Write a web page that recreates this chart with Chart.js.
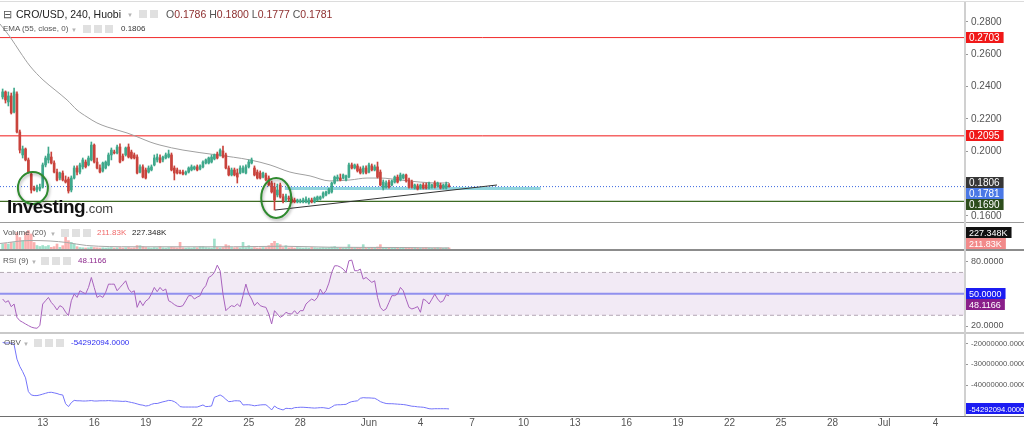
<!DOCTYPE html>
<html>
<head>
<meta charset="utf-8">
<title>CRO/USD 240 Huobi</title>
<script src="https://cdn.jsdelivr.net/npm/chart.js@4.4.1/dist/chart.umd.min.js"></script>
<style>
  html, body { margin: 0; padding: 0; background: #fff; }
  #wrap { position: relative; width: 1024px; height: 428px; overflow: hidden;
          font-family: "Liberation Sans", Arial, sans-serif; }
  #wrap canvas { position: absolute; left: 0; }
  .line { position: absolute; left: 0; width: 1024px; }
  .lbl { position: absolute; white-space: nowrap; font-size: 8px; line-height: 10px; color: #555; }
  .ico { position: absolute; width: 8px; height: 8px; background: #e0e0e0; }
  .dd { position: absolute; color: #b4b4b4; font-size: 6px; line-height: 8px; }
</style>
</head>
<body>
<div id="wrap">
  <canvas id="priceChart" width="1024" height="219" style="top:3px"></canvas>
  <canvas id="volumeChart" width="1024" height="26" style="top:223px"></canvas>
  <canvas id="rsiChart" width="1024" height="81" style="top:251px"></canvas>
  <canvas id="obvChart" width="1024" height="94" style="top:334px"></canvas>

  <!-- pane borders -->
  <div class="line" style="top:1px;height:1px;background:#dcdcdc"></div>
  <div class="line" style="top:222px;height:1px;background:#9a9a9a"></div>
  <div class="line" style="top:249px;height:2px;background:#8c8c8c"></div>
  <div class="line" style="top:332px;height:2px;background:#c9c9c9"></div>
  <div class="line" style="top:416px;height:1px;background:#6e6e6e"></div>
  <div style="position:absolute;left:964px;top:2px;width:2px;height:414px;background:#d0d0d0"></div>

  <!-- main legend -->
  <div class="lbl" style="left:3px;top:8px;font-size:11px;line-height:12px;color:#555">&#8863;</div>
  <div class="lbl" style="left:16px;top:8px;font-size:10.5px;line-height:12px;color:#222">CRO/USD, 240, Huobi</div>
  <div class="dd" style="left:127px;top:11px">&#9660;</div>
  <div class="ico" style="left:139px;top:10px"></div>
  <div class="ico" style="left:150px;top:10px"></div>
  <div class="lbl" style="left:166px;top:8px;font-size:10.5px;line-height:12px;color:#8e2f2f"><span style="color:#555">O</span>0.1786 <span style="color:#555">H</span>0.1800 <span style="color:#555">L</span>0.1777 <span style="color:#555">C</span>0.1781</div>

  <div class="lbl" style="left:3px;top:24px">EMA (55, close, 0)</div>
  <div class="dd" style="left:71px;top:26px">&#9660;</div>
  <div class="ico" style="left:83px;top:25px"></div>
  <div class="ico" style="left:94px;top:25px"></div>
  <div class="ico" style="left:105px;top:25px"></div>
  <div class="lbl" style="left:121px;top:24px;color:#333">0.1806</div>

  <div class="lbl" style="left:3px;top:228px">Volume (20)</div>
  <div class="dd" style="left:50px;top:230px">&#9660;</div>
  <div class="ico" style="left:61px;top:229px"></div>
  <div class="ico" style="left:72px;top:229px"></div>
  <div class="ico" style="left:83px;top:229px"></div>
  <div class="lbl" style="left:97px;top:228px;color:#f06a6a">211.83K</div>
  <div class="lbl" style="left:132px;top:228px;color:#222">227.348K</div>

  <div class="lbl" style="left:3px;top:256px">RSI (9)</div>
  <div class="dd" style="left:31px;top:258px">&#9660;</div>
  <div class="ico" style="left:41px;top:257px"></div>
  <div class="ico" style="left:52px;top:257px"></div>
  <div class="ico" style="left:63px;top:257px"></div>
  <div class="lbl" style="left:78px;top:256px;color:#8e2a8e">48.1166</div>

  <div class="lbl" style="left:4px;top:338px">OBV</div>
  <div class="dd" style="left:23px;top:340px">&#9660;</div>
  <div class="ico" style="left:34px;top:339px"></div>
  <div class="ico" style="left:45px;top:339px"></div>
  <div class="ico" style="left:56px;top:339px"></div>
  <div class="lbl" style="left:71px;top:338px;color:#2e2ef0">-54292094.0000</div>

  <div class="lbl" style="left:7px;top:197px;font-size:19px;line-height:20px;font-weight:bold;color:#111;letter-spacing:-0.6px">Investing<span style="font-size:13px;font-weight:normal;color:#444;letter-spacing:0">.com</span></div>
</div>

<script>
Chart.defaults.font.family = '"Liberation Sans", Arial, sans-serif';
Chart.defaults.font.size = 10;
Chart.defaults.color = '#555';

// Time axis: days counted from 13 May 00:00, one bar every 240 minutes
const firstBarDay = -2 - 1 / 3; // 10 May 16:00
const barDays = 1 / 6;
const viewStart = -2.487;
const viewEnd = 53.715;
const tickDays = [0, 3, 6, 9, 12, 15, 19, 22, 25, 28, 31, 34, 37, 40, 43, 46, 49, 52];
const tickLabels = ["13", "16", "19", "22", "25", "28", "Jun", "4", "7", "10", "13", "16", "19", "22", "25", "28", "Jul", "4"];

// Candles
const opens = [
  0.2336, 0.2367, 0.2305, 0.2342, 0.2243, 0.2354, 0.2119, 0.1977, 0.2014, 0.1946,
  0.1859, 0.1772, 0.1760, 0.1766, 0.1778, 0.1915, 0.1946, 0.1964, 0.1927, 0.1871,
  0.1834, 0.1865, 0.1822, 0.1828, 0.1760, 0.1834, 0.1896, 0.1871, 0.1903, 0.1933,
  0.1915, 0.1946, 0.2038, 0.1933, 0.1896, 0.1878, 0.1896, 0.1915, 0.1977, 0.1995,
  0.1989, 0.2026, 0.1970, 0.1977, 0.2026, 0.1995, 0.1977, 0.1964, 0.1871, 0.1903,
  0.1884, 0.1871, 0.1884, 0.1915, 0.1946, 0.1958, 0.1946, 0.1958, 0.1964, 0.1977,
  0.1896, 0.1884, 0.1871, 0.1871, 0.1859, 0.1871, 0.1884, 0.1890, 0.1903, 0.1890,
  0.1903, 0.1927, 0.1927, 0.1933, 0.1952, 0.1983, 0.1977, 0.2001, 0.1977, 0.1896,
  0.1853, 0.1884, 0.1865, 0.1865, 0.1871, 0.1865, 0.1903, 0.1927, 0.1896, 0.1871,
  0.1865, 0.1840, 0.1853, 0.1834, 0.1803, 0.1778, 0.1729, 0.1791, 0.1717, 0.1698,
  0.1710, 0.1704, 0.1698, 0.1686, 0.1686, 0.1686, 0.1686, 0.1680, 0.1698, 0.1686,
  0.1698, 0.1704, 0.1717, 0.1729, 0.1741, 0.1748, 0.1803, 0.1828, 0.1834, 0.1834,
  0.1822, 0.1840, 0.1915, 0.1896, 0.1909, 0.1890, 0.1871, 0.1896, 0.1871, 0.1909,
  0.1884, 0.1903, 0.1871, 0.1772, 0.1778, 0.1809, 0.1791, 0.1809, 0.1840, 0.1822,
  0.1834, 0.1853, 0.1822, 0.1809, 0.1772, 0.1785, 0.1772, 0.1791, 0.1791, 0.1772,
  0.1778, 0.1803, 0.1785, 0.1791, 0.1772, 0.1772, 0.1786
];
const highs = [
  0.2385, 0.2373, 0.2367, 0.2360, 0.2391, 0.2367, 0.2131, 0.2032, 0.2020, 0.1958,
  0.1871, 0.1785, 0.1791, 0.1797, 0.1927, 0.1970, 0.2026, 0.1995, 0.1940, 0.1890,
  0.1871, 0.1878, 0.1847, 0.1840, 0.1847, 0.1909, 0.1909, 0.1927, 0.1958, 0.1946,
  0.1970, 0.2057, 0.2045, 0.1958, 0.1915, 0.1933, 0.1940, 0.1989, 0.2020, 0.2007,
  0.2038, 0.2045, 0.1983, 0.2026, 0.2045, 0.2007, 0.1989, 0.1977, 0.1915, 0.1915,
  0.1896, 0.1909, 0.1915, 0.1977, 0.1983, 0.1977, 0.1970, 0.1989, 0.2007, 0.1989,
  0.1909, 0.1896, 0.1884, 0.1884, 0.1878, 0.1903, 0.1915, 0.1909, 0.1915, 0.1915,
  0.1940, 0.1952, 0.1964, 0.1977, 0.1983, 0.1995, 0.2014, 0.2032, 0.1989, 0.1909,
  0.1896, 0.1896, 0.1890, 0.1909, 0.1909, 0.1915, 0.1946, 0.1958, 0.1909, 0.1884,
  0.1878, 0.1871, 0.1865, 0.1847, 0.1816, 0.1803, 0.1797, 0.1803, 0.1735, 0.1735,
  0.1723, 0.1717, 0.1710, 0.1704, 0.1704, 0.1710, 0.1717, 0.1710, 0.1710, 0.1717,
  0.1723, 0.1723, 0.1748, 0.1754, 0.1772, 0.1809, 0.1847, 0.1853, 0.1859, 0.1859,
  0.1853, 0.1927, 0.1927, 0.1921, 0.1921, 0.1903, 0.1909, 0.1909, 0.1927, 0.1921,
  0.1915, 0.1933, 0.1884, 0.1822, 0.1816, 0.1822, 0.1822, 0.1847, 0.1853, 0.1865,
  0.1859, 0.1859, 0.1834, 0.1822, 0.1797, 0.1797, 0.1797, 0.1803, 0.1803, 0.1809,
  0.1797, 0.1816, 0.1809, 0.1803, 0.1797, 0.1809, 0.1800
];
const lows = [
  0.2323, 0.2298, 0.2280, 0.2230, 0.2237, 0.2113, 0.1989, 0.1958, 0.1940, 0.1865,
  0.1741, 0.1754, 0.1748, 0.1754, 0.1772, 0.1903, 0.1927, 0.1921, 0.1865, 0.1816,
  0.1822, 0.1816, 0.1803, 0.1741, 0.1748, 0.1828, 0.1853, 0.1859, 0.1890, 0.1896,
  0.1909, 0.1940, 0.1927, 0.1890, 0.1865, 0.1871, 0.1890, 0.1909, 0.1946, 0.1983,
  0.1983, 0.1927, 0.1940, 0.1970, 0.1958, 0.1952, 0.1952, 0.1859, 0.1865, 0.1834,
  0.1828, 0.1865, 0.1878, 0.1909, 0.1933, 0.1927, 0.1933, 0.1952, 0.1958, 0.1878,
  0.1822, 0.1859, 0.1859, 0.1853, 0.1853, 0.1865, 0.1878, 0.1884, 0.1878, 0.1884,
  0.1896, 0.1921, 0.1921, 0.1927, 0.1946, 0.1952, 0.1970, 0.1958, 0.1890, 0.1847,
  0.1847, 0.1847, 0.1803, 0.1859, 0.1865, 0.1859, 0.1896, 0.1921, 0.1847, 0.1828,
  0.1828, 0.1834, 0.1816, 0.1785, 0.1741, 0.1636, 0.1717, 0.1710, 0.1680, 0.1686,
  0.1692, 0.1680, 0.1680, 0.1680, 0.1680, 0.1680, 0.1680, 0.1673, 0.1680, 0.1680,
  0.1692, 0.1698, 0.1710, 0.1723, 0.1735, 0.1741, 0.1797, 0.1816, 0.1816, 0.1828,
  0.1816, 0.1834, 0.1890, 0.1890, 0.1871, 0.1859, 0.1859, 0.1859, 0.1865, 0.1878,
  0.1878, 0.1834, 0.1785, 0.1760, 0.1772, 0.1772, 0.1785, 0.1803, 0.1803, 0.1816,
  0.1828, 0.1809, 0.1772, 0.1772, 0.1766, 0.1760, 0.1766, 0.1766, 0.1766, 0.1766,
  0.1772, 0.1772, 0.1778, 0.1766, 0.1766, 0.1766, 0.1777
];
const closes = [
  0.2367, 0.2317, 0.2342, 0.2237, 0.2367, 0.2119, 0.2007, 0.2014, 0.1946, 0.1871,
  0.1760, 0.1760, 0.1778, 0.1778, 0.1915, 0.1958, 0.1983, 0.1927, 0.1871, 0.1822,
  0.1865, 0.1822, 0.1809, 0.1754, 0.1834, 0.1896, 0.1871, 0.1915, 0.1946, 0.1903,
  0.1958, 0.2038, 0.1933, 0.1896, 0.1871, 0.1927, 0.1933, 0.1977, 0.2007, 0.1989,
  0.2026, 0.1933, 0.1946, 0.2020, 0.1964, 0.1958, 0.1958, 0.1865, 0.1903, 0.1840,
  0.1834, 0.1896, 0.1903, 0.1958, 0.1964, 0.1933, 0.1964, 0.1977, 0.1983, 0.1884,
  0.1865, 0.1865, 0.1865, 0.1859, 0.1871, 0.1896, 0.1903, 0.1903, 0.1884, 0.1909,
  0.1933, 0.1946, 0.1958, 0.1964, 0.1977, 0.1958, 0.2007, 0.1964, 0.1896, 0.1853,
  0.1884, 0.1853, 0.1840, 0.1896, 0.1896, 0.1903, 0.1933, 0.1946, 0.1853, 0.1834,
  0.1834, 0.1865, 0.1822, 0.1791, 0.1748, 0.1698, 0.1760, 0.1717, 0.1692, 0.1723,
  0.1704, 0.1686, 0.1686, 0.1698, 0.1692, 0.1698, 0.1704, 0.1698, 0.1686, 0.1710,
  0.1717, 0.1717, 0.1741, 0.1748, 0.1766, 0.1803, 0.1840, 0.1840, 0.1822, 0.1853,
  0.1847, 0.1915, 0.1896, 0.1915, 0.1878, 0.1865, 0.1896, 0.1865, 0.1915, 0.1884,
  0.1903, 0.1840, 0.1791, 0.1809, 0.1803, 0.1778, 0.1816, 0.1840, 0.1809, 0.1853,
  0.1853, 0.1816, 0.1778, 0.1778, 0.1791, 0.1766, 0.1791, 0.1772, 0.1772, 0.1803,
  0.1791, 0.1778, 0.1803, 0.1772, 0.1791, 0.1797, 0.1781
];

// EMA(55): day, value
const emaDays = [-2.49, -1.90, -1.32, -0.74, 0.02, 0.72, 1.42, 2.00, 2.58, 3.16, 3.75, 4.91, 5.67,
  6.25, 6.83, 8.17, 10.15, 12.07, 13.24, 14.40, 15.57, 16.73, 17.90, 18.89, 19.65, 20.81, 21.98, 23.14, 23.67];
const emaValues = [0.2787, 0.2707, 0.2614, 0.2527, 0.2441, 0.2379, 0.2317, 0.2255, 0.2212, 0.2175, 0.2150, 0.2113, 0.2082,
  0.2057, 0.2038, 0.2007, 0.1977, 0.1946, 0.1915, 0.1871, 0.1847, 0.1816, 0.1822, 0.1834, 0.1834, 0.1822, 0.1809, 0.1803, 0.1806];

// Drawn levels
const resistanceHigh = 0.2703;
const resistanceLow = 0.2095;
const supportLevel = 0.1690;
const zoneLevel = 0.1769;
const zoneDays = [14.1, 29.0];
const trendDays = [13.53, 26.46];
const trendPrices = [0.1636, 0.1791];

// Volume (thousands)
const volumes = [
  1000, 1100, 1000, 1300, 1300, 3300, 2300, 1700, 3300, 3700,
  3000, 1300, 700, 500, 700, 500, 700, 330, 470, 1000,
  330, 670, 2700, 1670, 1330, 1000, 470, 300, 250, 200,
  250, 400, 300, 250, 200, 250, 200, 250, 300, 200,
  250, 300, 200, 250, 300, 200, 250, 700, 670, 470,
  300, 250, 200, 300, 250, 470, 250, 200, 300, 350,
  300, 250, 1330, 250, 200, 250, 200, 300, 250, 470,
  470, 300, 250, 200, 2000, 300, 250, 300, 870, 670,
  300, 250, 300, 250, 1330, 300, 670, 250, 300, 200,
  250, 300, 300, 670, 1130, 1530, 1130, 870, 300, 670,
  250, 300, 200, 300, 250, 200, 250, 200, 300, 250,
  200, 250, 300, 250, 300, 400, 500, 300, 250, 200,
  250, 870, 300, 250, 300, 250, 870, 300, 250, 300,
  250, 400, 870, 300, 250, 200, 250, 300, 200, 250,
  200, 250, 300, 200, 250, 200, 150, 200, 250, 200,
  150, 200, 250, 200, 150, 200, 227.348
];
const volMaDays = [-2.49, -0.74, 0.43, 1.40, 2.56, 5.26, 11.1, 14.0, 16.9, 20.8, 23.67];
const volMaValues = [1100, 1700, 1600, 1300, 700, 450, 450, 550, 350, 300, 211.83];

// RSI(9)
const rsiValues = [
  45.2, 42.1, 43.6, 38.0, 40.5, 28.1, 25.0, 23.5, 21.9, 20.4,
  19.0, 18.2, 17.9, 20.4, 40.5, 43.6, 46.7, 42.0, 39.0, 35.0,
  39.0, 37.4, 33.0, 29.7, 43.6, 49.8, 46.7, 52.9, 51.4, 50.0,
  56.0, 65.3, 56.0, 46.7, 48.3, 46.7, 51.4, 59.1, 59.0, 59.1,
  52.9, 56.0, 59.0, 62.2, 54.5, 51.4, 52.9, 37.4, 43.6, 39.0,
  43.3, 45.2, 50.0, 56.0, 52.0, 56.0, 52.9, 54.5, 43.6, 42.1,
  40.0, 38.5, 38.1, 39.0, 43.6, 48.3, 48.3, 45.2, 47.0, 48.3,
  54.5, 57.6, 65.3, 66.9, 70.0, 76.8, 71.6, 49.8, 34.3, 37.0,
  39.0, 38.1, 40.5, 38.1, 48.3, 59.1, 50.0, 45.2, 39.0, 42.1,
  39.0, 38.0, 37.4, 31.2, 21.9, 34.3, 31.2, 28.1, 29.7, 32.8,
  31.5, 31.2, 34.3, 31.2, 34.3, 34.3, 40.5, 43.0, 45.2, 43.6,
  46.7, 54.5, 49.8, 52.9, 60.0, 70.0, 76.2, 76.2, 75.0, 73.1,
  70.0, 80.9, 81.5, 71.6, 71.6, 73.1, 63.8, 65.3, 63.0, 60.7,
  62.2, 46.7, 37.4, 34.3, 35.9, 42.0, 48.3, 48.3, 49.8, 56.0,
  52.9, 45.0, 37.4, 35.9, 36.8, 38.1, 32.8, 45.2, 43.6, 40.5,
  45.0, 49.8, 45.2, 42.1, 43.6, 49.2, 48.1166
];

// OBV (millions)
const obvValues = [
  -19.5, -19.8, -19.7, -19.9, -20.5, -27.5, -31.0, -33.5, -36.5, -43.1,
  -44.7, -45.0, -45.0, -44.7, -44.3, -43.9, -43.5, -43.4, -43.7, -44.0,
  -44.5, -44.7, -48.9, -50.3, -48.4, -47.3, -47.5, -47.5, -47.6, -47.6,
  -47.5, -47.4, -47.6, -47.6, -47.5, -47.5, -47.5, -47.4, -47.5, -47.6,
  -47.6, -47.7, -47.8, -47.7, -48.0, -48.3, -48.6, -49.0, -49.4, -49.6,
  -50.0, -49.8, -49.2, -48.8, -48.8, -48.4, -48.0, -47.7, -47.3, -47.4,
  -47.9, -48.8, -50.3, -50.5, -50.5, -50.5, -50.5, -50.5, -50.5, -50.0,
  -49.5, -50.3, -50.2, -50.0, -45.8, -45.3, -44.7, -45.5, -46.8, -47.9,
  -47.8, -47.5, -47.5, -47.6, -49.5, -49.4, -49.4, -49.6, -49.9, -49.7,
  -49.5, -49.4, -49.4, -50.5, -51.9, -50.0, -51.0, -51.5, -51.9, -51.1,
  -51.2, -51.3, -50.8, -50.7, -50.6, -50.6, -50.7, -50.8, -50.9, -51.0,
  -50.9, -50.8, -50.8, -51.0, -51.2, -50.5, -49.6, -49.4, -49.4, -49.3,
  -49.2, -48.4, -47.9, -47.7, -47.5, -46.3, -46.0, -46.1, -46.1, -46.2,
  -46.3, -47.0, -47.9, -48.4, -48.8, -48.9, -48.9, -49.0, -49.1, -49.2,
  -49.3, -49.5, -49.8, -50.1, -50.2, -50.4, -50.5, -50.6, -50.9, -51.3,
  -51.4, -51.3, -51.3, -51.3, -51.3, -51.3, -51.4
];

const priceTicks = [0.16, 0.18, 0.20, 0.22, 0.24, 0.26, 0.28];
const rsiTicks = [20, 40, 80];
const obvTicks = [-20, -30, -40, -50];


// ---------- helpers ----------
const barTimes = closes.map((c, i) => firstBarDay + i * barDays);
const upColor = "#3fa88b";
const downColor = "#c9433c";
const candleColors = closes.map((c, i) => (c >= opens[i] ? upColor : downColor));
const volumeColors = closes.map((c, i) => (c >= opens[i] ? "rgba(80,200,160,0.55)" : "rgba(245,110,110,0.55)"));

function flat(value, from = viewStart, to = viewEnd) {
  return [{ x: from, y: value }, { x: to, y: value }];
}

function lineSet(data, color, width, order, extra = {}) {
  return Object.assign({
    type: "line", data, borderColor: color, borderWidth: width,
    pointRadius: 0, fill: false, tension: 0, order
  }, extra);
}

function timeAxis(show) {
  return {
    type: "linear", min: viewStart, max: viewEnd, offset: false, display: show,
    afterBuildTicks: (axis) => { axis.ticks = tickDays.map((v) => ({ value: v })); },
    // hidden axes must not take any room
    afterFit: (axis) => { axis.height = show ? 12 : 0; axis.paddingLeft = 0; axis.paddingRight = 0; },
    grid: { display: false, drawTicks: false },
    border: { display: false },
    ticks: { color: "#555", padding: 1, maxRotation: 0, autoSkip: false,
             callback: (v, i) => tickLabels[i] }
  };
}

function valueAxis(min, max, ticks, fmt, fontSize = 10) {
  return {
    type: "linear", position: "right", min, max,
    afterBuildTicks: (axis) => { axis.ticks = ticks.map((v) => ({ value: v })); },
    afterFit: (axis) => { axis.width = 59; axis.paddingTop = 0; axis.paddingBottom = 0; },
    grid: { drawOnChartArea: false, drawTicks: true, tickLength: 3, color: "#999" },
    border: { display: false },
    ticks: { color: "#555", padding: 3, font: { size: fontSize }, display: ticks.length > 0,
             callback: (v) => fmt(v) }
  };
}

// Coloured value boxes on the right scale, stacked so they don't overlap
function scaleBoxes(id, items, fontSize = 10) {
  return {
    id,
    afterDraw(chart) {
      const { ctx, chartArea, scales } = chart;
      const h = 11;
      const rows = items
        .map((it) => Object.assign({}, it, { y: scales.y.getPixelForValue(it.value) }))
        .map((r) => Object.assign(r, { y: Math.min(Math.max(r.y, chartArea.top + h / 2), chartArea.bottom - h / 2) }))
        .sort((a, b) => a.y - b.y);
      for (let i = 1; i < rows.length; i++) {
        if (rows[i].y < rows[i - 1].y + h) rows[i].y = rows[i - 1].y + h;
      }
      const over = rows.length ? rows[rows.length - 1].y - (chartArea.bottom - h / 2) : 0;
      if (over > 0) rows.forEach((r) => (r.y -= over));

      ctx.save();
      ctx.font = fontSize + 'px "Liberation Sans", Arial, sans-serif';
      ctx.textBaseline = "middle";
      rows.forEach((r) => {
        const w = ctx.measureText(r.text).width + 7;
        ctx.fillStyle = r.bg;
        ctx.fillRect(chartArea.right + 1, Math.round(r.y - h / 2), w, h);
        ctx.fillStyle = r.fg || "#fff";
        ctx.fillText(r.text, chartArea.right + 4, Math.round(r.y) + 0.5);
      });
      ctx.restore();
    }
  };
}

// Hand-drawn circles on the price pane
const circleMarks = {
  id: "circleMarks",
  afterDatasetsDraw(chart) {
    const { ctx, scales } = chart;
    const marks = [
      { day: -0.57, price: 0.1773, rx: 15, ry: 16 },
      { day: 13.6, price: 0.1710, rx: 15, ry: 20 }
    ];
    ctx.save();
    ctx.strokeStyle = "#2f8a2f";
    ctx.lineWidth = 2;
    ctx.shadowColor = "rgba(0,0,0,0.3)";
    ctx.shadowBlur = 3;
    ctx.shadowOffsetX = 1;
    ctx.shadowOffsetY = 2;
    marks.forEach((m) => {
      ctx.beginPath();
      ctx.ellipse(scales.x.getPixelForValue(m.day), scales.y.getPixelForValue(m.price), m.rx, m.ry, 0, 0, Math.PI * 2);
      ctx.stroke();
    });
    ctx.restore();
  }
};

function makeChart(id, datasets, yAxis, showTime, plugins) {
  return new Chart(document.getElementById(id), {
    type: "bar",
    data: { datasets },
    options: {
      responsive: false,
      animation: false,
      events: [],
      layout: { padding: 0 },
      plugins: { legend: { display: false }, tooltip: { enabled: false } },
      scales: { x: timeAxis(showTime), y: yAxis }
    },
    plugins
  });
}


// ---------- price pane ----------
const lastPrice = closes[closes.length - 1];
const lastEma = emaValues[emaValues.length - 1];

makeChart("priceChart", [
  lineSet(flat(resistanceHigh), "#f22a2a", 1, 9),
  lineSet(flat(resistanceLow), "#f01818", 1, 9),
  lineSet(flat(supportLevel), "#3e6b24", 1.2, 9),
  lineSet(flat(lastPrice), "#3b68e0", 1, 9, { borderDash: [1, 2] }),
  lineSet(flat(zoneLevel, zoneDays[0], zoneDays[1]), "rgba(125,205,215,0.85)", 3, 8),
  lineSet(emaDays.map((d, i) => ({ x: d, y: emaValues[i] })), "#a0a0a0", 1, 7, { cubicInterpolationMode: "monotone" }),
  {
    type: "bar", order: 3, grouped: false, barThickness: 1,
    data: barTimes.map((d, i) => ({ x: d, y: [lows[i], highs[i]] })),
    backgroundColor: candleColors
  },
  {
    type: "bar", order: 2, grouped: false, barThickness: 2, minBarLength: 1,
    data: barTimes.map((d, i) => ({ x: d, y: [opens[i], closes[i]] })),
    backgroundColor: candleColors
  },
  lineSet(trendDays.map((d, i) => ({ x: d, y: trendPrices[i] })), "#333", 1, 1)
], valueAxis(0.1562, 0.2917, priceTicks, (v) => v.toFixed(4)), false, [
  circleMarks,
  scaleBoxes("priceBoxes", [
    { value: resistanceHigh, text: resistanceHigh.toFixed(4), bg: "#f01818" },
    { value: resistanceLow, text: resistanceLow.toFixed(4), bg: "#f01818" },
    { value: lastEma, text: lastEma.toFixed(4), bg: "#363636" },
    { value: lastPrice, text: lastPrice.toFixed(4), bg: "#4a78e6" },
    { value: supportLevel, text: supportLevel.toFixed(4), bg: "#2d4d1c" }
  ])
]);


// ---------- volume pane ----------
const lastVolume = volumes[volumes.length - 1];
const lastVolMa = volMaValues[volMaValues.length - 1];

makeChart("volumeChart", [
  lineSet(volMaDays.map((d, i) => ({ x: d, y: volMaValues[i] })), "#a8a8a8", 1, 1, { cubicInterpolationMode: "monotone" }),
  {
    type: "bar", order: 2, grouped: false, barThickness: 2,
    data: barTimes.map((d, i) => ({ x: d, y: volumes[i] })),
    backgroundColor: volumeColors
  }
], valueAxis(0, 5200, [], (v) => v), false, [
  scaleBoxes("volumeBoxes", [
    { value: lastVolume, text: lastVolume.toFixed(3) + "K", bg: "#111" },
    { value: lastVolMa, text: lastVolMa.toFixed(2) + "K", bg: "#f28a8a" }
  ], 9)
]);


// ---------- RSI pane ----------
const lastRsi = rsiValues[rsiValues.length - 1];

makeChart("rsiChart", [
  lineSet(flat(70), "#b4aab4", 1, 6, { borderDash: [4, 3], fill: "+1", backgroundColor: "rgba(150,80,175,0.12)" }),
  lineSet(flat(30), "#b4aab4", 1, 6, { borderDash: [4, 3] }),
  lineSet(flat(50), "#9190ee", 2, 5),
  lineSet(barTimes.map((d, i) => ({ x: d, y: rsiValues[i] })), "#a862bd", 1, 1)
], valueAxis(14.4, 90, rsiTicks, (v) => v.toFixed(4), 9), false, [
  scaleBoxes("rsiBoxes", [
    { value: 50, text: "50.0000", bg: "#1c1cf2" },
    { value: lastRsi, text: lastRsi.toFixed(4), bg: "#8a1f8a" }
  ], 9)
]);


// ---------- OBV pane ----------
makeChart("obvChart", [
  lineSet(barTimes.map((d, i) => ({ x: d, y: obvValues[i] })), "#7474fa", 1, 1)
], valueAxis(-54.8, -15.44, obvTicks, (v) => (v * 1e6).toFixed(4), 7.6), true, [
  scaleBoxes("obvBoxes", [
    { value: obvValues[obvValues.length - 1], text: "-54292094.0000", bg: "#1c1cf2" }
  ], 7.6)
]);
</script>
</body>
</html>
